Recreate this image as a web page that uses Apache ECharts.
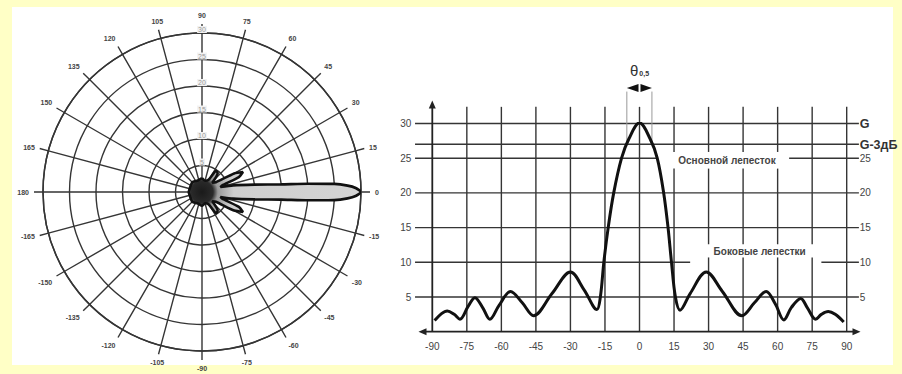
<!DOCTYPE html>
<html><head><meta charset="utf-8">
<script src="https://cdn.jsdelivr.net/npm/echarts@6/dist/echarts.min.js"></script>
<style>html,body{margin:0;padding:0;background:#FFFFC6;} #c{width:902px;height:374px;}</style>
</head><body><div id="c"></div>
<script>
// ---- Cartesian pattern (angle in degrees, gain) ----
const patternAngles = [-89,-86,-83.5,-80.5,-78,-74.5,-71.5,-68,-65,-61,-56,-51,-46,-38,-30,-24,-18.5,-17,-15.5,-13.6,-11.2,-7.8,-4.6,0,4.6,7.7,10.5,12.4,13.9,15.6,17.6,22,29,36,44.5,50,55,59,62.7,66,70,73,76.5,79,82,85,88.7];
const patternGain   = [1.6,2.6,3.0,2.5,1.8,3.6,4.9,3.4,1.8,3.8,5.8,4.2,2.3,5.5,8.6,6.0,3.2,5,10,15,20,25,27.8,30.1,27.8,25,20,15,10,5,3.1,5.5,8.6,5.8,2.3,4.2,5.8,4.0,1.7,3.5,4.8,3.4,1.8,2.5,2.9,2.5,1.4];
const xTickValues = [-90,-75,-60,-45,-30,-15,0,15,30,45,60,75,90];
const yTickValues = [5,10,15,20,25,30];
const rightTickNames = {30:'{g|G}',25:'25',20:'20',15:'15',10:'10',5:'5'};
const halfPowerLevel = 27;
const halfPowerLabel = 'G-3дБ';
const halfPowerAngles = [-5.5, 5.4];
const mainLobeLabel = 'Основной лепесток';
const sideLobeLabel = 'Боковые лепестки';
// ---- Polar pattern (angle in degrees, radius value) ----
const polarAngles = [-180,-160,-135,-110,-90,-75,-62,-56,-50,-42,-35,-30,-26,-22,-18,-15,-12,-8,-5.5,-4.5,-3.5,-2.5,-1.5,0,1.5,2.5,3.5,4.5,5.5,8,12,15,18,22,26,30,35,42,50,56,62,75,90,110,135,160,180];
const polarRadius = [2.5,2.4,2.6,2.3,2.6,2.2,2.6,4.8,4.6,2.6,3.2,7,8.6,7.5,4,3.6,6,10,15,20,25,27.5,29,30,29,27.5,25,20,15,10,6,3.6,4,7.5,8.6,7,3.2,2.6,4.6,4.8,2.6,2.2,2.6,2.3,2.6,2.4,2.5];
const polarRadiusTicks = [5,10,15,20,25,30];

const INK = '#353535';
const FONT = 'Liberation Sans';
const POLAR_CENTER = [202,192], POLAR_R = 159;

const chart = echarts.init(document.getElementById('c'), null, {renderer:'svg'});

const toAxisAngle = a => (a < 90 ? a + 360 : a);
const fromAxisAngle = v => (v > 180 ? v - 360 : v);
const polarPoints = polarAngles.map((a,i)=>[polarRadius[i], toAxisAngle(a)])
  .sort((p,q)=>p[1]-q[1]);
polarPoints.push([polarPoints[0][0], 450]);

const vTop = 32.4, xLeft = -97.5, xRight = 95.3;
function buildSegments(){
  const segs = [];
  const hGaps = {25:[[7.7,65]], 10:[[22,79]]};
  [5,10,15,20,25,halfPowerLevel,30].forEach(y=>{
    let pieces=[[xLeft,xRight]];
    (hGaps[y]||[]).forEach(g=>{
      pieces = pieces.flatMap(p=> (g[0]>p[0]&&g[1]<p[1]) ? [[p[0],g[0]],[g[1],p[1]]] : [p]);
    });
    pieces.forEach(p=>segs.push([p[0],y,p[1],y]));
  });
  const upperGap=[23.5,25.9], lowerGap=[10.7,12.6];
  xTickValues.slice(1).forEach(x=>{
    let pieces=[[0,vTop]];
    const gaps=[];
    if([15,30,45,60].includes(x)) gaps.push(upperGap);
    if([30,45,60,75].includes(x)) gaps.push(lowerGap);
    gaps.forEach(g=>{
      pieces = pieces.flatMap(p=> (g[0]>p[0]&&g[1]<p[1]) ? [[p[0],g[0]],[g[1],p[1]]] : [p]);
    });
    pieces.forEach(p=>segs.push([x,p[0],x,p[1]]));
  });
  return segs;
}
const segments = buildSegments();

function renderDeco(params, api){
  const c = (x,y)=>api.coord([x,y]);
  const children = [];
  segments.forEach(s=>{
    const a=c(s[0],s[1]), b=c(s[2],s[3]);
    children.push({type:'line', shape:{x1:a[0],y1:a[1],x2:b[0],y2:b[1]}, style:{stroke:INK,lineWidth:1.4}});
  });
  const y0=c(-90,0), y1=c(-90,33.3);
  children.push({type:'line', shape:{x1:y0[0],y1:y0[1],x2:y1[0],y2:y1[1]+6}, style:{stroke:'#222',lineWidth:1.8}});
  children.push({type:'polygon', shape:{points:[[y1[0],y1[1]],[y1[0]-3.5,y1[1]+8],[y1[0]+3.5,y1[1]+8]]}, style:{fill:'#222'}});
  const xl=c(-96,0), xr=c(96,0);
  children.push({type:'line', shape:{x1:xl[0]+6,y1:xl[1],x2:xr[0]-6,y2:xr[1]}, style:{stroke:'#222',lineWidth:1.8}});
  children.push({type:'polygon', shape:{points:[[xl[0],xl[1]],[xl[0]+8,xl[1]-3.5],[xl[0]+8,xl[1]+3.5]]}, style:{fill:'#222'}});
  children.push({type:'polygon', shape:{points:[[xr[0],xr[1]],[xr[0]-8,xr[1]-3.5],[xr[0]-8,xr[1]+3.5]]}, style:{fill:'#222'}});
  halfPowerAngles.forEach(a=>{
    const p=c(a,26.9), q=c(a,34.6);
    children.push({type:'line', shape:{x1:p[0],y1:p[1],x2:q[0],y2:q[1]}, style:{stroke:'#999',lineWidth:1}});
  });
  const al=c(halfPowerAngles[0],35.1), ar=c(halfPowerAngles[1],35.1), am=c(0,35.1);
  children.push({type:'polygon', shape:{points:[[al[0],al[1]],[am[0]-1,am[1]-4],[am[0]-1,am[1]+4]]}, style:{fill:'#111'}});
  children.push({type:'polygon', shape:{points:[[ar[0],ar[1]],[am[0]+1,am[1]-4],[am[0]+1,am[1]+4]]}, style:{fill:'#111'}});
  const tp=c(0,37.7);
  children.push({type:'text', x:tp[0], y:tp[1], style:{text:'θ{s|0,5}', fill:'#333', font:'15px '+FONT, align:'center', verticalAlign:'middle',
     rich:{s:{fontSize:7, fill:'#333', fontFamily:FONT, fontWeight:'bold', padding:[6,0,0,1]}}}});
  const m=c(38,24.7);
  children.push({type:'text', x:m[0], y:m[1], style:{text:mainLobeLabel, fill:'#444', font:'bold 10px '+FONT, align:'center', verticalAlign:'middle'}});
  const s=c(52.2,11.6);
  children.push({type:'text', x:s[0], y:s[1], style:{text:sideLobeLabel, fill:'#444', font:'bold 10px '+FONT, align:'center', verticalAlign:'middle'}});
  const g=c(90,halfPowerLevel);
  children.push({type:'text', x:g[0]+13, y:g[1]+0.5, style:{text:halfPowerLabel, fill:'#333', font:'bold 12.5px '+FONT, align:'left', verticalAlign:'middle'}});
  return {type:'group', children};
}

const option = {
  backgroundColor:'#FFFFC6',
  animation:false,
  graphic:[{type:'rect', shape:{x:12,y:7,width:881,height:358}, style:{fill:'#ffffff'}, z:-10, silent:true}],
  polar:{center:POLAR_CENTER, radius:POLAR_R},
  angleAxis:{type:'value', min:90, max:450, interval:15, startAngle:90, clockwise:false,
    axisLine:{lineStyle:{color:INK,width:1.5}},
    axisTick:{show:true, length:9, lineStyle:{color:INK,width:1.4}},
    axisLabel:{margin:14, fontSize:7, color:'#444', fontFamily:FONT, fontWeight:'bold', formatter:v=> v===450?'':String(fromAxisAngle(v))},
    splitLine:{show:true, lineStyle:{color:INK,width:1.4}}},
  radiusAxis:{type:'value', min:0, max:30, interval:5,
    axisLine:{show:false}, axisTick:{show:false},
    axisLabel:{margin:0, fontSize:7, color:'#999', fontFamily:FONT, align:'center', verticalAlign:'bottom', backgroundColor:'#f2f2f2', padding:[0,1],
      formatter:v=> polarRadiusTicks.includes(v)?String(v):''},
    splitLine:{show:true, lineStyle:{color:INK,width:1.4}}},
  grid:{left:432.3, right:55.3, top:123.5, bottom:42.3},
  xAxis:{type:'value', min:-90, max:90, interval:15,
    axisLine:{show:false}, axisTick:{show:false}, splitLine:{show:false},
    axisLabel:{margin:10, fontSize:10, color:'#444', fontFamily:FONT, formatter:v=> xTickValues.includes(v)?String(v):''}},
  yAxis:[
    {type:'value', min:0, max:30, interval:5, position:'left',
      axisLine:{show:false}, axisTick:{show:false}, splitLine:{show:false},
      axisLabel:{margin:21, fontSize:10, color:'#444', fontFamily:FONT, formatter:v=> yTickValues.includes(v)?String(v):''}},
    {type:'value', min:0, max:30, interval:5, position:'right',
      axisLine:{show:false}, axisTick:{show:false}, splitLine:{show:false},
      axisLabel:{margin:13, fontSize:10, color:'#444', fontFamily:FONT, formatter:v=> rightTickNames[v]||'',
        rich:{g:{fontSize:12.5, fontWeight:'bold', color:'#333', fontFamily:FONT}}}}
  ],
  series:[
    {type:'custom', xAxisIndex:0, yAxisIndex:0, renderItem:renderDeco, data:[[0,0]], clip:false, silent:true, z:1},
    {type:'line', xAxisIndex:0, yAxisIndex:0, data:patternAngles.map((a,i)=>[a,patternGain[i]]),
      smooth:0.35, symbol:'none', lineStyle:{color:'#111', width:3}, z:5},
    {type:'line', coordinateSystem:'polar', data:polarPoints,
      smooth:0.2, symbol:'none', lineStyle:{color:'#111', width:2.6},
      areaStyle:{opacity:1, color:{type:'radial', x:POLAR_CENTER[0], y:POLAR_CENTER[1], r:POLAR_R, global:true,
        colorStops:[{offset:0,color:'#1a1a1a'},{offset:0.07,color:'#2a2a2a'},{offset:0.1,color:'#9a9a9a'},{offset:0.2,color:'#cfcfcf'},{offset:1,color:'#d4d4d4'}]}}, z:5}
  ]
};
chart.setOption(option);
</script></body></html>
